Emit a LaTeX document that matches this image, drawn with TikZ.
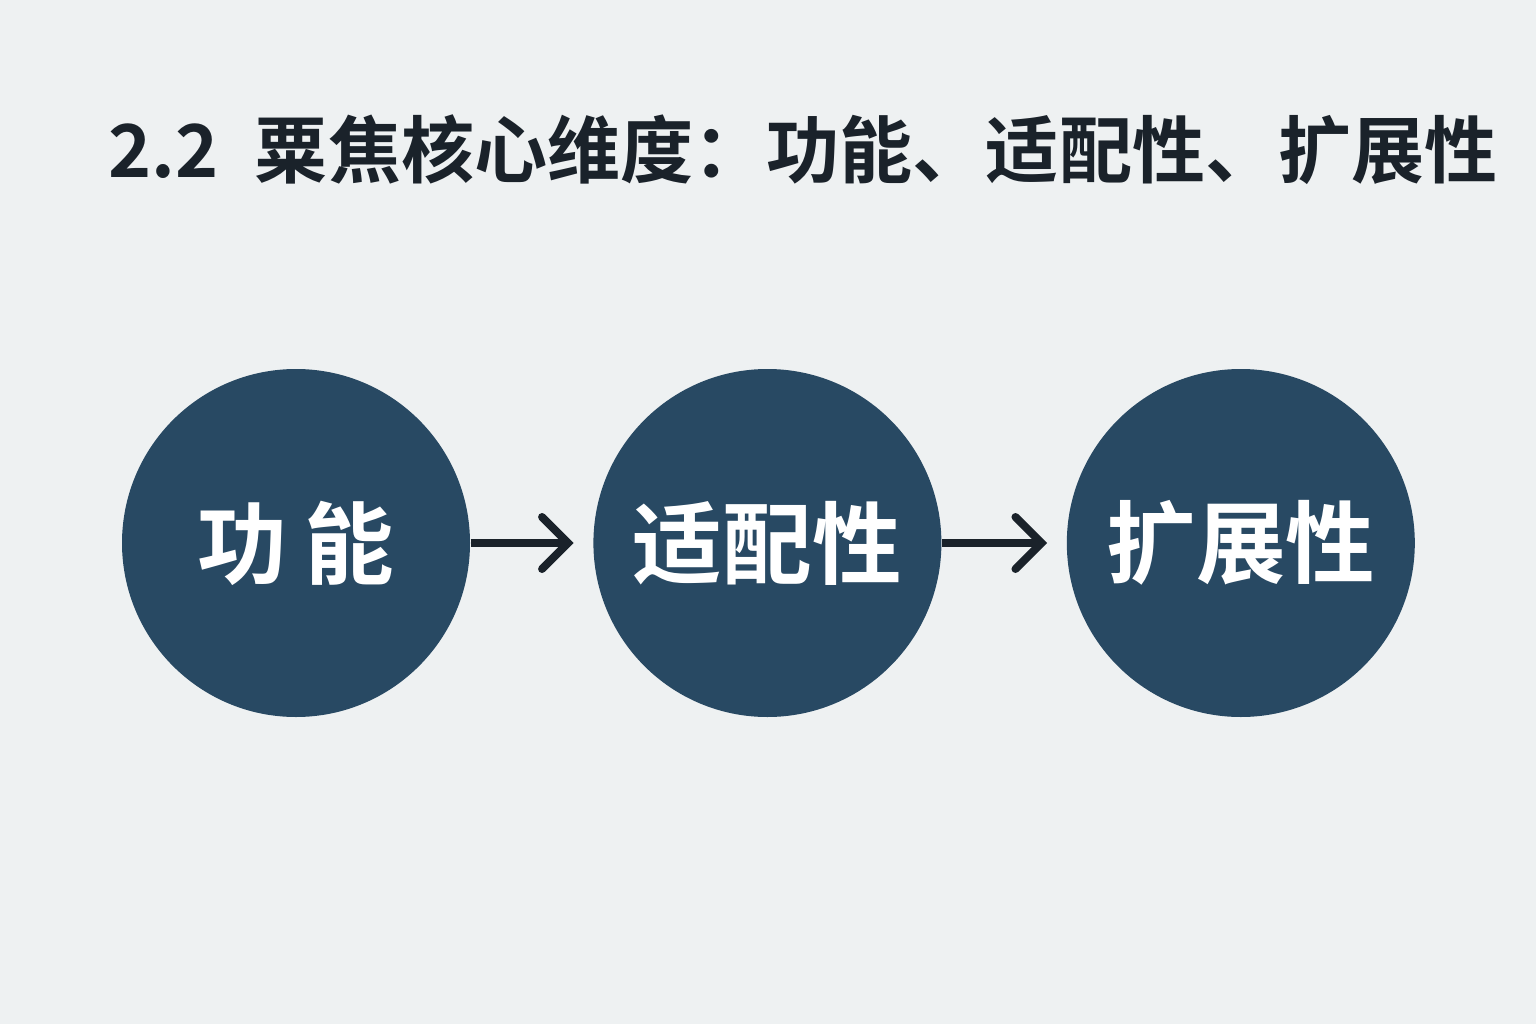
\documentclass[tikz,border=0pt]{standalone}
\usepackage{fontspec}
\usepackage{xcolor}
\usepackage{tikz}
\usetikzlibrary{arrows.meta,positioning}
\newfontfamily\cjk{Noto Sans CJK SC}[UprightFont={* Medium},BoldFont={* Bold}]
\definecolor{dimbg}{RGB}{238,241,242}
\definecolor{dimnavy}{RGB}{40,73,99}
\definecolor{dimink}{RGB}{26,34,42}

\begin{document}
\begin{tikzpicture}[
    dimcircle/.style={circle,fill=dimnavy,minimum size=3.48cm,inner sep=0pt,text=white,font=\cjk\bfseries\fontsize{25.5}{30}\selectfont},
    flowarrow/.style={-{Straight Barb[length=2.6mm,width=5.2mm,line cap=round]},line width=0.8mm,draw=dimink,shorten >=1.9mm}
]
    % Background
    \fill[dimbg] (0,0) rectangle (15.36,10.24);

    % Title
    \node[text=dimink,font=\cjk\bfseries\fontsize{20.8}{25}\selectfont] (title) at (8.03,8.74) {2.2\enspace 粟焦核心维度：功能、适配性、扩展性};

    % Dimension circles
    \node[dimcircle] (func) at (2.96,4.81) {功\hspace{0.2em}能};
    \node[dimcircle,right=1.22cm of func] (adapt) {适配性};
    \node[dimcircle,right=1.24cm of adapt] (scale) {扩展性};

    % Flow arrows
    \foreach \from/\to in {func/adapt, adapt/scale} {
        \draw[flowarrow] (\from) -- (\to);
    }
\end{tikzpicture}
\end{document}
